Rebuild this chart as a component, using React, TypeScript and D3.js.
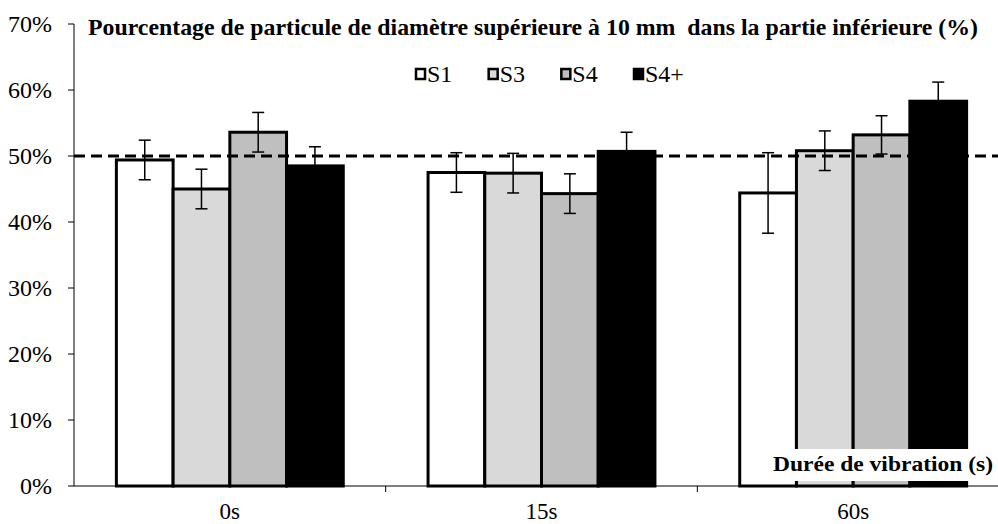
import React from "react";
import * as d3 from "d3";

const categories = ["0s", "15s", "60s"];
const seriesNames = ["S1", "S3", "S4", "S4+"];
const seriesColors = ["#ffffff", "#d9d9d9", "#bfbfbf", "#000000"];
const valuesS1 = [49.4, 47.5, 44.4];
const valuesS3 = [45.0, 47.4, 50.8];
const valuesS4 = [53.6, 44.3, 53.2];
const valuesS4p = [48.5, 50.7, 58.3];
const errS1 = [3.0, 3.0, 6.1];
const errS3 = [3.0, 3.0, 3.0];
const errS4 = [3.0, 3.0, 2.9];
const errS4p = [2.9, 2.9, 2.9];
const yTicks = [0, 10, 20, 30, 40, 50, 60, 70];
const referenceLine = 50;
const title = "Pourcentage de particule de diamètre supérieure à 10 mm  dans la partie inférieure (%)";
const xTitle = "Durée de vibration (s)";

const values = [valuesS1, valuesS3, valuesS4, valuesS4p];
const errors = [errS1, errS3, errS4, errS4p];

export default function App() {
  const W = 998, H = 524;
  const left = 74, right = 1009, top = 24, bottom = 486;
  const fontStyle = { fontFamily: '"Liberation Serif", "Times New Roman", Tinos, "DejaVu Serif", serif', whiteSpace: "pre" as const };
  const x0 = d3.scaleBand().domain(categories).range([left, right]).paddingInner(0).paddingOuter(0);
  const groupW = x0.bandwidth() * 0.728;
  const xb = d3.scaleBand().domain(seriesNames).range([(x0.bandwidth() - groupW) / 2, (x0.bandwidth() + groupW) / 2]);
  const y = d3.scaleLinear().domain([0, 70]).range([bottom, top]);
  const legendX = d3.scalePoint().domain(seriesNames).range([415, 633]);

  return (
    <svg width={W} height={H} style={{ position: "absolute", left: 0, top: 0 }}>
      <rect x={0} y={0} width={W} height={H} fill="#fff" />
      {categories.map((c, ci) =>
        seriesNames.map((s, si) => {
          const bx = x0(c)! + xb(s)!;
          const bw = xb.bandwidth();
          const v = values[si][ci];
          return (
            <rect key={c + s} x={bx} y={y(v)} width={bw} height={bottom - y(v)}
              fill={seriesColors[si]} stroke="#000" strokeWidth={3} />
          );
        })
      )}
      {categories.map((c, ci) =>
        seriesNames.map((s, si) => {
          const cx = x0(c)! + xb(s)! + xb.bandwidth() / 2;
          const v = values[si][ci];
          const e = errors[si][ci];
          return (
            <g key={"e" + c + s} stroke="#000" strokeWidth={1.5}>
              <line x1={cx} x2={cx} y1={y(v + e)} y2={y(v - e)} />
              <line x1={cx - 6} x2={cx + 6} y1={y(v + e)} y2={y(v + e)} />
              <line x1={cx - 6} x2={cx + 6} y1={y(v - e)} y2={y(v - e)} />
            </g>
          );
        })
      )}
      <line x1={left} x2={right} y1={y(referenceLine)} y2={y(referenceLine)} stroke="#000" strokeWidth={3} strokeDasharray="11,6" />
      <line x1={left} x2={left} y1={top} y2={bottom} stroke="#000" strokeWidth={1} />
      {yTicks.map((t) => (
        <g key={t}>
          <line x1={left - 6} x2={left} y1={y(t)} y2={y(t)} stroke="#000" strokeWidth={1} />
          <text x={52} y={y(t) + 8} textAnchor="end" fontSize={24} fill="#000" style={fontStyle}>{t}%</text>
        </g>
      ))}
      <line x1={left} x2={right} y1={bottom} y2={bottom} stroke="#000" strokeWidth={1} />
      {categories.map((c, i) => (
        <g key={c}>
          {i > 0 && <line x1={x0(c)!} x2={x0(c)!} y1={bottom} y2={bottom + 6} stroke="#000" strokeWidth={1} />}
          <text x={x0(c)! + x0.bandwidth() / 2} y={bottom + 33} textAnchor="middle" fontSize={23} fill="#000" style={fontStyle}>{c}</text>
        </g>
      ))}
      <text x={88} y={35} fontSize={23} fontWeight="bold" fill="#000" style={fontStyle} textLength={890} lengthAdjust="spacingAndGlyphs">{title}</text>
      {seriesNames.map((s, i) => {
        const lx = legendX(s)!;
        return (
          <g key={"l" + s}>
            <rect x={lx + 1} y={69} width={9} height={10} fill={seriesColors[i]} stroke="#000" strokeWidth={2.5} />
            <text x={lx + 12} y={82} fontSize={24} fill="#000" style={fontStyle}>{s}</text>
          </g>
        );
      })}
      <rect x={768} y={449} width={230} height={32} fill="#fff" />
      <text x={993} y={471} textAnchor="end" fontSize={22} fontWeight="bold" fill="#000" style={fontStyle} textLength={220} lengthAdjust="spacingAndGlyphs">{xTitle}</text>
    </svg>
  );
}
